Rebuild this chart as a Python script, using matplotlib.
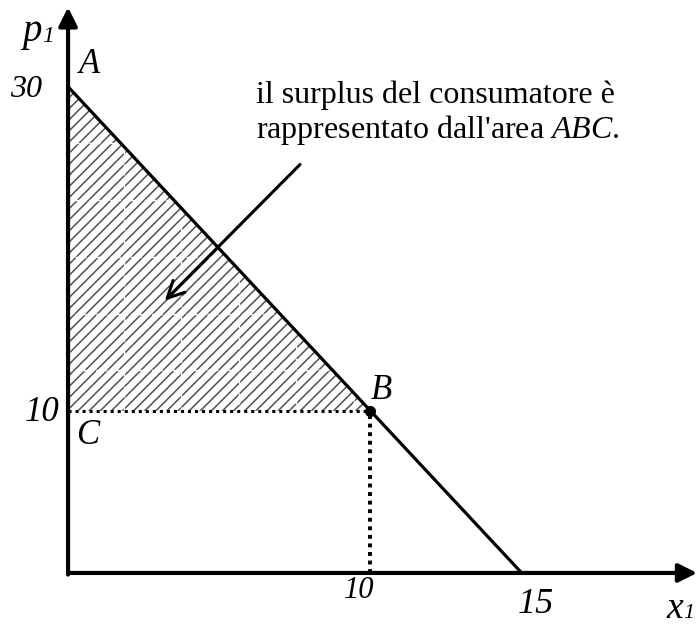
import numpy as np
import matplotlib.pyplot as plt
from matplotlib.patches import Polygon

plt.rcParams['font.family'] = ['Liberation Serif', 'DejaVu Serif']
plt.rcParams['mathtext.fontset'] = 'custom'
plt.rcParams['mathtext.rm'] = 'Liberation Serif'
plt.rcParams['mathtext.it'] = 'Liberation Serif:italic'
plt.rcParams['hatch.linewidth'] = 1.1

# linear demand p1 = 30 - 2 x1, price fixed at 10
demand_x = [0, 15]
demand_p = [30, 0]
point_A = (0, 30)
point_B = (10, 10)
point_C = (0, 10)
x_ticks = [10, 15]
y_ticks = [10, 30]

fig = plt.figure(figsize=(6.98, 6.24), dpi=100)
ax = fig.add_axes([0, 0, 1, 1])
ax.set_xlim(-2.25, 20.83)
ax.set_ylim(-3.15, 35.35)
ax.axis('off')

# surplus triangle ABC: hatched, with a faint white grid inside
tri = Polygon([point_A, point_B, point_C], closed=True, facecolor='white',
              edgecolor='#505050', hatch='///', lw=0)
ax.add_patch(tri)
for gx in np.arange(1.85, 10, 1.9):
    ln, = ax.plot([gx, gx], [10, 30], color='white', lw=1, ls=(0, (3, 2)))
    ln.set_clip_path(tri)
for gy in np.arange(26.5, 10, -3.5):
    ln, = ax.plot([0, 10], [gy, gy], color='white', lw=1, ls=(0, (3, 2)))
    ln.set_clip_path(tri)

# demand curve
ax.plot(demand_x, demand_p, color='black', lw=2.3, solid_capstyle='butt')

# dotted guides from B
ax.plot([point_C[0], point_B[0]], [point_C[1], point_B[1]], color='black',
        lw=2.2, ls=(0, (1, 1.3)), dash_capstyle='butt')
ax.plot([point_B[0], point_B[0]], [0, point_B[1]], color='black',
        lw=2.8, ls=(0, (1, 1.2)), dash_capstyle='butt')
ax.plot(*point_B, 'o', color='black', ms=7)

# axes with arrowheads
ax.annotate('', xy=(20.8, 0), xytext=(0, 0),
            arrowprops=dict(arrowstyle='-|>', color='black', lw=3,
                            mutation_scale=28, shrinkA=0, shrinkB=0))
ax.annotate('', xy=(0, 34.9), xytext=(0, -0.1),
            arrowprops=dict(arrowstyle='-|>', color='black', lw=3,
                            mutation_scale=28, shrinkA=0, shrinkB=0))

lab = dict(textcoords='offset points', fontstyle='italic')

# axis names with italic subscript 1
ax.annotate('p', xy=(0, 35.35), xytext=(-19, -9), ha='right', va='top',
            fontsize=28, **lab)
ax.annotate('1', xy=(0, 35.35), xytext=(-19, -19), ha='left', va='top',
            fontsize=17, **lab)
ax.annotate('x', xy=(20.83, 0), xytext=(-11, -13), ha='right', va='top',
            fontsize=27, **lab)
ax.annotate('1', xy=(20.83, 0), xytext=(-11, -22), ha='left', va='top',
            fontsize=16, **lab)

ax.annotate('A', xy=point_A, xytext=(8, 4), ha='left', va='bottom',
            fontsize=25, **lab)
ax.annotate('B', xy=point_B, xytext=(0, 3), ha='left', va='bottom',
            fontsize=25, **lab)
ax.annotate('C', xy=point_C, xytext=(6, -6), ha='left', va='top',
            fontsize=25, **lab)

ax.annotate(str(y_ticks[1]), xy=(0, y_ticks[1]), xytext=(-19, -2),
            ha='right', va='center', fontsize=23, **lab)
ax.annotate(str(y_ticks[0]), xy=(0, y_ticks[0]), xytext=(-6, -1),
            ha='right', va='center', fontsize=25, **lab)
ax.annotate(str(x_ticks[0]), xy=(x_ticks[0], 0), xytext=(-8, -2),
            ha='center', va='top', fontsize=22, **lab)
ax.annotate(str(x_ticks[1]), xy=(x_ticks[1], 0), xytext=(10, -11),
            ha='center', va='top', fontsize=26, **lab)

# note with arrow pointing into the surplus area
ax.text(6.2, 26.84, "il surplus del consumatore è\nrappresentato dall'area $ABC$.",
        ha='left', va='baseline', fontsize=23, linespacing=1.1)
ax.annotate('', xy=(3.2, 16.8), xytext=(7.67, 25.2),
            arrowprops=dict(arrowstyle='->', color='black', lw=2.2,
                            mutation_scale=30, shrinkA=0, shrinkB=0))

fig.savefig('out.png', dpi=100)
